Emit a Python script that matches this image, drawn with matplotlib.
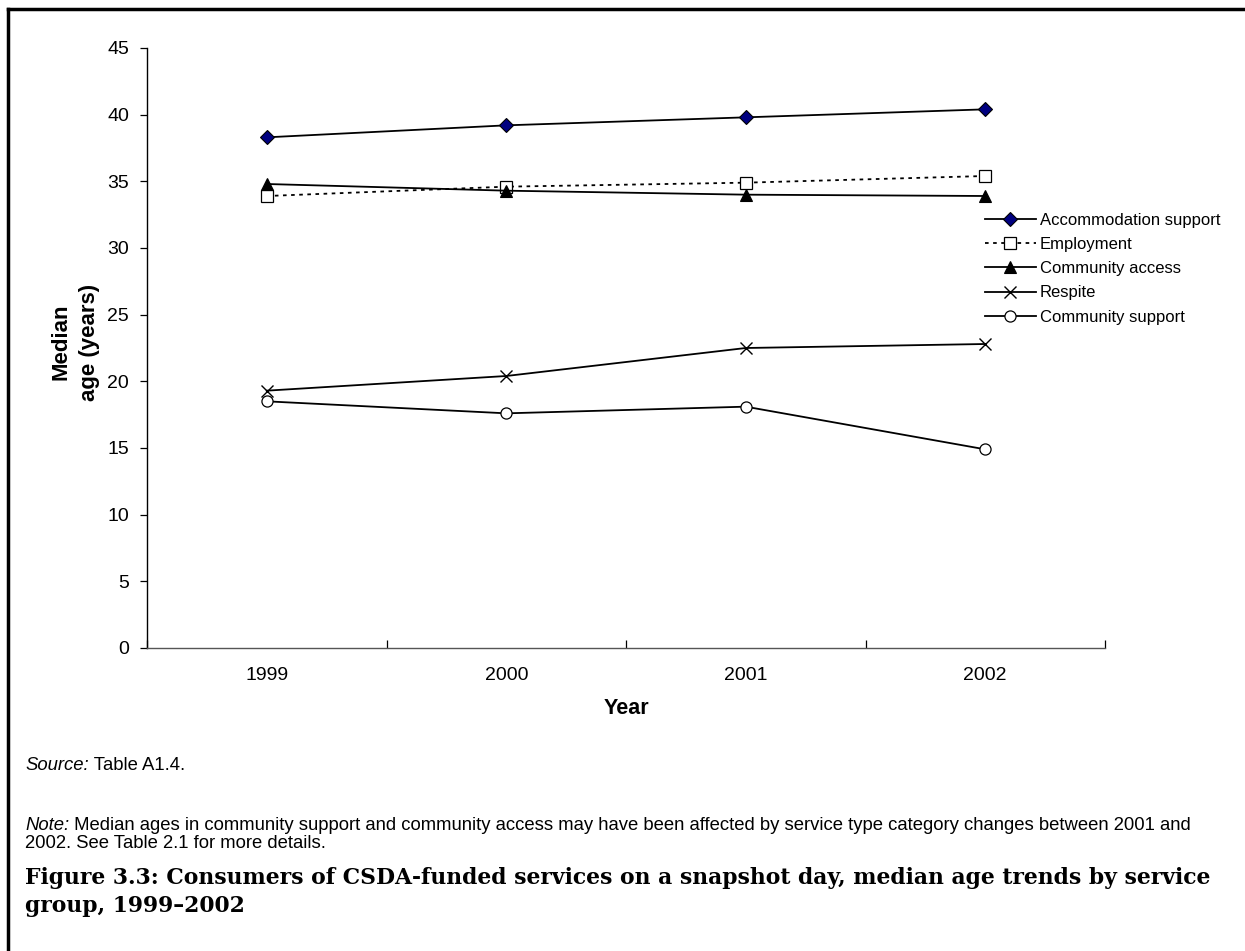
import matplotlib
matplotlib.use("Agg")
import matplotlib.pyplot as plt
from matplotlib.lines import Line2D
from matplotlib.transforms import blended_transform_factory

plt.rcParams['font.family'] = ['Liberation Sans', 'DejaVu Sans']

# data
years = ['1999', '2000', '2001', '2002']
accommodation = [38.3, 39.2, 39.8, 40.4]
employment = [33.9, 34.6, 34.9, 35.4]
community_access = [34.8, 34.3, 34.0, 33.9]
respite = [19.3, 20.4, 22.5, 22.8]
community_support = [18.5, 17.6, 18.1, 14.9]

series_names = ['Accommodation support', 'Employment', 'Community access',
                'Respite', 'Community support']
y_ticks = list(range(0, 50, 5))

source_lead, source_rest = 'Source:', ' Table A1.4.'
note_lead = 'Note:'
note_rest = (' Median ages in community support and community access may have been '
             'affected by service type category changes between 2001 and')
note_line2 = '2002. See Table 2.1 for more details.'
title_lines = ['Figure 3.3: Consumers of CSDA-funded services on a snapshot day, median age trends by service',
               'group, 1999\u20132002']

# styles for each series
styles = [
    dict(ls='-', marker='D', mfc='#000080', mec='black', ms=7, mew=0.8),
    dict(ls=(0, (2, 2.5)), marker='s', mfc='white', mec='black', ms=8, mew=0.9),
    dict(ls='-', marker='^', mfc='black', mec='black', ms=8.5, mew=0.8),
    dict(ls='-', marker='x', mfc='black', mec='black', ms=9, mew=1.0),
    dict(ls='-', marker='o', mfc='white', mec='black', ms=8, mew=0.9),
]

W, H = 1245, 951
fig = plt.figure(figsize=(W / 100, H / 100), dpi=100)
ax = fig.add_axes([147 / W, 1 - 648 / H, (1105 - 147) / W, 600 / H])

x = list(range(len(years)))
all_series = [accommodation, employment, community_access, respite, community_support]
for vals, name, st in zip(all_series, series_names, styles):
    ax.plot(x, vals, color='black', lw=1.3, label=name, **st)

ax.set_xlim(-0.5, len(years) - 0.5)
ax.set_ylim(0, 45)
ax.set_yticks(y_ticks)
ax.set_yticklabels([str(v) for v in y_ticks], fontsize=14)

# category axis: ticks between categories, labels centered
ax.set_xticks([i - 0.5 for i in range(len(years) + 1)])
ax.set_xticklabels([])
ax.set_xticks(x, minor=True)
ax.set_xticklabels(years, minor=True, fontsize=14)
ax.tick_params(axis='x', which='minor', length=0, pad=14)
ax.tick_params(axis='x', which='major', length=6, direction='in', width=0.9)
ax.tick_params(axis='y', length=5, direction='out', width=0.9, pad=8)

for side in ['top', 'right']:
    ax.spines[side].set_visible(False)
ax.spines['left'].set_linewidth(1.0)
ax.spines['bottom'].set_linewidth(1.0)
ax.spines['bottom'].set_color('#555555')

ax.set_xlabel('Year', fontsize=15.5, fontweight='bold', labelpad=10)
ax.set_ylabel('Median\nage (years)', fontsize=16, fontweight='bold',
              multialignment='center', linespacing=1.45)
ax.yaxis.set_label_coords(100 / W, 0.51,
                          transform=blended_transform_factory(fig.transFigure, ax.transAxes))

ax.legend(loc='upper left', bbox_to_anchor=(985 / W, 1 - 213 / H),
          bbox_transform=fig.transFigure, frameon=False, fontsize=12,
          handlelength=3.05, handletextpad=0.25, labelspacing=0.55,
          borderpad=0, borderaxespad=0)

# border lines of the figure box
fig.add_artist(Line2D([8 / W, 8 / W], [0, 1 - 9 / H], color='black',
                      lw=2.5, transform=fig.transFigure))
fig.add_artist(Line2D([8 / W, 1], [1 - 9 / H, 1 - 9 / H], color='black',
                      lw=2.5, transform=fig.transFigure))

# notes: italic lead word followed by regular text
fig.canvas.draw()
renderer = fig.canvas.get_renderer()


def lead_and_rest(y_px, lead, rest, size):
    t = fig.text(25 / W, 1 - y_px / H, lead, fontsize=size, va='center', style='italic')
    bb = t.get_window_extent(renderer)
    fig.text(bb.x1 / W, 1 - y_px / H, rest, fontsize=size, va='center')


lead_and_rest(765, source_lead, source_rest, 13.3)
lead_and_rest(826, note_lead, note_rest, 13.3)
fig.text(25 / W, 1 - 844 / H, note_line2, fontsize=13.3, va='center')

# caption: fit the first line to the reference width
probe = fig.text(0, 0, title_lines[0], fontsize=16, fontweight='bold', family=['DejaVu Serif'])
width = probe.get_window_extent(renderer).width
probe.remove()
title_size = 16 * (1212 - 25) / width
for y_px, line in zip([878, 906], title_lines):
    fig.text(25 / W, 1 - y_px / H, line, fontsize=title_size, fontweight='bold',
             family=['DejaVu Serif'], va='center')

fig.savefig('out.png', dpi=100)
